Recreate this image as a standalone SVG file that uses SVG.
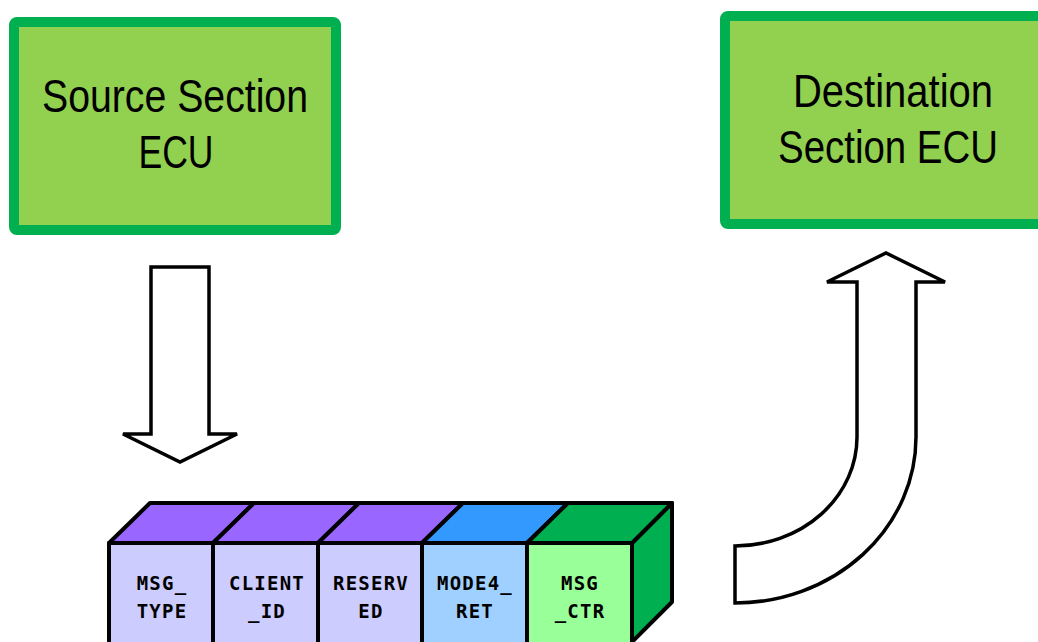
<svg xmlns="http://www.w3.org/2000/svg" width="1038" height="642" viewBox="0 0 1038 642">
<style>
.ecu{fill:#92D050;stroke:#00B050;stroke-width:10}
.big{font-family:"Liberation Sans Narrow","Liberation Sans",Arial,sans-serif;font-size:47px;fill:#000;text-anchor:middle}
.arrow{fill:#fff;stroke:#000;stroke-width:3.5;stroke-linejoin:miter}
.cell{stroke:#000;stroke-width:4;stroke-linejoin:round}
.lbl{font-family:"DejaVu Sans Mono","Liberation Mono",monospace;font-weight:bold;font-size:19px;letter-spacing:1.2px;fill:#000;text-anchor:middle}
</style>
<rect width="1038" height="642" fill="#fff"/>
<g id="source-ecu">
<rect class="ecu" x="14" y="22" width="322" height="208" rx="3"/>
<text class="big" x="175" y="112" textLength="266" lengthAdjust="spacingAndGlyphs">Source Section</text>
<text class="big" x="176" y="168" textLength="75" lengthAdjust="spacingAndGlyphs">ECU</text>
</g>
<g id="destination-ecu">
<rect class="ecu" x="725" y="16" width="318" height="208" rx="3"/>
<text class="big" x="893" y="107" textLength="200" lengthAdjust="spacingAndGlyphs">Destination</text>
<text class="big" x="888" y="163" textLength="220" lengthAdjust="spacingAndGlyphs">Section ECU</text>
</g>
<g id="connectors">
<path class="arrow" d="M151 267 L209 267 L209 434 L237 434 L180 462 L123 434 L151 434 Z"/>
<path class="arrow" d="M735 546 A122 109 0 0 0 857 437 L857 282 L827 282 L886 253 L945 282 L916 282 L916 437 A181 166 0 0 1 735 603 Z"/>
</g>
<g id="message-frame">
<polygon class="cell" fill="#00B050" points="632,543 672,503 672,602 632,642"/>
<g id="msg-type">
<polygon class="cell" fill="#9966FF" points="109,543 150,503 254,503 213,543"/>
<rect class="cell" fill="#CCCCFF" x="109" y="543" width="104" height="104"/>
<text class="lbl" x="162" y="590">MSG_</text>
<text class="lbl" x="162" y="618">TYPE</text>
</g>
<g id="client-id">
<polygon class="cell" fill="#9966FF" points="213,543 254,503 359,503 318,543"/>
<rect class="cell" fill="#CCCCFF" x="213" y="543" width="105" height="104"/>
<text class="lbl" x="267" y="590">CLIENT</text>
<text class="lbl" x="267" y="618">_ID</text>
</g>
<g id="reserved">
<polygon class="cell" fill="#9966FF" points="318,543 359,503 463,503 422,543"/>
<rect class="cell" fill="#CCCCFF" x="318" y="543" width="104" height="104"/>
<text class="lbl" x="371" y="590">RESERV</text>
<text class="lbl" x="371" y="618">ED</text>
</g>
<g id="mode4-ret">
<polygon class="cell" fill="#3399FF" points="422,543 463,503 568,503 527,543"/>
<rect class="cell" fill="#A0D0FF" x="422" y="543" width="105" height="104"/>
<text class="lbl" x="475" y="590">MODE4_</text>
<text class="lbl" x="475" y="618">RET</text>
</g>
<g id="msg-ctr">
<polygon class="cell" fill="#00B050" points="527,543 568,503 672,503 632,543"/>
<rect class="cell" fill="#99FF99" x="527" y="543" width="105" height="104"/>
<text class="lbl" x="580" y="590">MSG</text>
<text class="lbl" x="580" y="618">_CTR</text>
</g>
</g>
</svg>
